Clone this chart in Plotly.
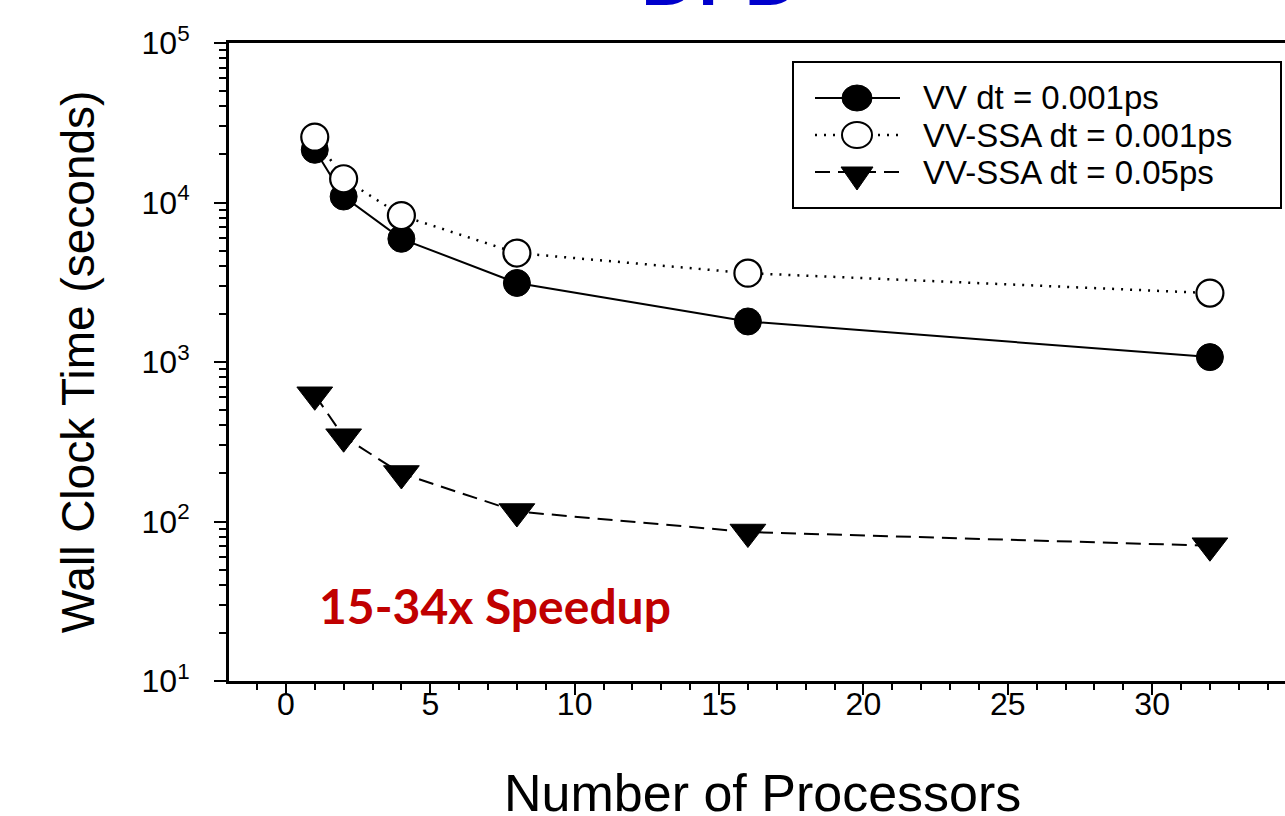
import plotly.graph_objects as go

# ---- data ----
processors = [1, 2, 4, 8, 16, 32]
vv_001 = [21400, 10900, 5920, 3130, 1795, 1073]
vvssa_001 = [25700, 14090, 8280, 4820, 3605, 2705]
vvssa_05 = [623, 340, 200, 115.5, 85.9, 70.5]
series_names = ["VV dt = 0.001ps", "VV-SSA dt = 0.001ps", "VV-SSA dt = 0.05ps"]
y_tickvals = [10, 100, 1000, 10000, 100000]
y_ticktext = ["10<sup>1</sup>", "10<sup>2</sup>", "10<sup>3</sup>", "10<sup>4</sup>", "10<sup>5</sup>"]
x_title = "Number of Processors"
y_title = "Wall Clock Time (seconds)"

FONT = "Liberation Sans, Arial, sans-serif"
W, H = 1285, 816
ML, MR, MT, MB = 229, 0, 43, 135
PW, PH = W - ML - MR, H - MT - MB


def px(xp):
    return (xp - ML) / PW


def py(yp):
    return (H - MB - yp) / PH


line_styles = [
    dict(color="black", width=2),
    dict(color="black", width=2.5, dash="2px,7px"),
    dict(color="black", width=2, dash="15px,8px"),
]

fig = go.Figure()
fig.add_trace(go.Scatter(
    x=processors, y=vv_001, name=series_names[0], mode="lines+markers",
    line=line_styles[0],
    marker=dict(symbol="circle", size=27, color="black", line=dict(color="black", width=1)),
))
fig.add_trace(go.Scatter(
    x=processors, y=vvssa_001, name=series_names[1], mode="lines+markers",
    line=line_styles[1],
    marker=dict(symbol="circle", size=27, color="white", line=dict(color="black", width=2.2)),
))
fig.add_trace(go.Scatter(
    x=processors, y=vvssa_05, name=series_names[2], mode="lines+markers",
    line=line_styles[2],
    marker=dict(symbol="triangle-down", size=31, color="black", line=dict(color="black", width=1)),
))

minor_y = [m * 10 ** k for k in range(1, 5) for m in range(2, 10)]

# ---- custom legend (box, key lines, key symbols, labels) ----
shapes = [dict(type="rect", xref="paper", yref="paper",
               x0=px(793), x1=px(1281), y0=py(62), y1=py(208),
               line=dict(color="black", width=2), fillcolor="white", layer="above")]
annotations = []
rows = [98, 135, 172]
for i, ry in enumerate(rows):
    shapes.append(dict(type="line", xref="paper", yref="paper",
                       x0=px(815), x1=px(900), y0=py(ry), y1=py(ry),
                       line=line_styles[i], layer="above"))
    annotations.append(dict(text=series_names[i], xref="paper", yref="paper",
                            x=px(921), y=py(ry), xanchor="left", yanchor="middle",
                            showarrow=False, font=dict(family=FONT, size=33, color="black")))
# key symbols
shapes.append(dict(type="circle", xref="paper", yref="paper",
                   x0=px(857 - 15), x1=px(857 + 15), y0=py(rows[0] - 13), y1=py(rows[0] + 13),
                   line=dict(color="black", width=1), fillcolor="black", layer="above"))
shapes.append(dict(type="circle", xref="paper", yref="paper",
                   x0=px(857 - 15), x1=px(857 + 15), y0=py(rows[1] - 13), y1=py(rows[1] + 13),
                   line=dict(color="black", width=2), fillcolor="white", layer="above"))
r3 = rows[2]
shapes.append(dict(type="path", xref="paper", yref="paper",
                   path=f"M {px(841)},{py(r3 - 5)} L {px(873)},{py(r3 - 5)} L {px(857)},{py(r3 + 18)} Z",
                   line=dict(color="black", width=1), fillcolor="black", layer="above"))

annotations += [
    dict(text=x_title, xref="paper", yref="paper",
         x=px(762), y=py(793), xanchor="center", yanchor="middle",
         showarrow=False, font=dict(family=FONT, size=52, color="black")),
    dict(text="15-34x Speedup", xref="paper", yref="paper",
         x=px(495), y=py(605), xanchor="center", yanchor="middle",
         showarrow=False, font=dict(family="Lato, sans-serif", size=48, color="#C00000", weight="bold")),
    dict(text="DPD", xref="paper", yref="paper",
         x=px(720), y=py(-24), xanchor="center", yanchor="middle",
         showarrow=False, font=dict(family="Lato, sans-serif", size=75, color="#0000CC", weight="bold")),
]

fig.update_layout(
    width=W, height=H,
    margin=dict(l=ML, r=MR, t=MT, b=MB),
    paper_bgcolor="white", plot_bgcolor="white",
    font=dict(family=FONT, color="black"),
    showlegend=False,
    xaxis=dict(
        range=[-1.97, 34.6], tick0=0, dtick=5, automargin=False,
        showline=True, linecolor="black", linewidth=3, mirror=True,
        ticks="outside", ticklen=11, tickwidth=2, tickcolor="black",
        ticklabelstandoff=-18,
        minor=dict(dtick=1, ticks="outside", ticklen=6, tickwidth=2, tickcolor="black", showgrid=False),
        showgrid=False, zeroline=False,
        tickfont=dict(family=FONT, size=32, color="black"),
    ),
    yaxis=dict(
        type="log", range=[1, 5], automargin=False,
        tickvals=y_tickvals, ticktext=y_ticktext,
        showline=True, linecolor="black", linewidth=3, mirror=False,
        ticks="outside", ticklen=12, tickwidth=2, tickcolor="black",
        ticklabelstandoff=18,
        minor=dict(tickvals=minor_y, ticks="outside", ticklen=7, tickwidth=2, tickcolor="black", showgrid=False),
        showgrid=False, zeroline=False,
        tickfont=dict(family=FONT, size=32, color="black"),
        title=dict(text=y_title, font=dict(family=FONT, size=46, color="black"), standoff=33),
    ),
    shapes=shapes,
    annotations=annotations,
)

fig.write_html("out.html",
               config={"displayModeBar": False},
               post_script="document.body.style.margin='0';document.body.style.overflow='hidden';")
